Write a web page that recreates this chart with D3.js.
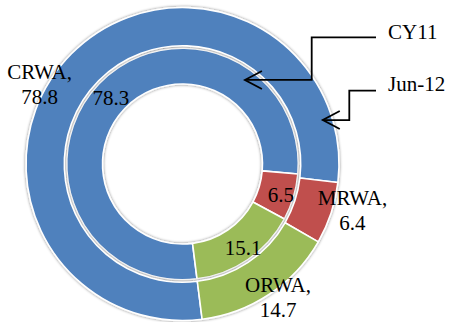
<!DOCTYPE html>
<html><head><meta charset="utf-8">
<script src="https://cdn.jsdelivr.net/npm/d3@7"></script>
<style>html,body{margin:0;padding:0;background:#fff;} svg{display:block;}</style>
</head><body>
<svg id="chart" width="451" height="322"></svg>
<script>
// ---- data ----
const categories = ["CRWA", "MRWA", "ORWA"];
const seriesNames = ["CY11", "Jun-12"];
const cy11Values = [78.3, 6.5, 15.1];
const jun12Values = [78.8, 6.4, 14.7];
const colors = ["#4F81BD", "#C0504D", "#9BBB59"];

// ---- layout ----
const W = 451, H = 322;
const cx = 182.5, cy = 164;
const start = 172.8 * Math.PI / 180;
const FONT = "'Liberation Serif', 'Times New Roman', serif";
const FS = 21, HALF_CAP = 7, LINE = 25;

const svg = d3.select("#chart");
const defs = svg.append("defs");
const f = defs.append("filter").attr("id", "sh")
  .attr("x", "-20%").attr("y", "-20%").attr("width", "140%").attr("height", "140%");
f.append("feGaussianBlur").attr("in", "SourceAlpha").attr("stdDeviation", 1.5).attr("result", "b");
f.append("feComponentTransfer").attr("in", "b").attr("result", "c")
  .append("feFuncA").attr("type", "linear").attr("slope", 0.5);
const m = f.append("feMerge");
m.append("feMergeNode").attr("in", "c");
m.append("feMergeNode").attr("in", "SourceGraphic");

const pie = d3.pie().sort(null).value(d => d)
  .startAngle(start).endAngle(start + 2 * Math.PI);

const rings = [
  { name: seriesNames[0], values: cy11Values, inner: 80, outer: 115.8, labelR: 98 },
  { name: seriesNames[1], values: jun12Values, inner: 118.2, outer: 156.5, labelR: 137.5 }
];

const g = svg.append("g").attr("transform", `translate(${cx},${cy})`);

rings.forEach((ring, ri) => {
  const arc = d3.arc().innerRadius(ring.inner).outerRadius(ring.outer);
  const rg = g.append("g").attr("filter", "url(#sh)");
  rg.selectAll("path").data(pie(ring.values)).join("path")
    .attr("d", arc)
    .attr("fill", (d, i) => colors[i])
    .attr("stroke", "#fff")
    .attr("stroke-width", 1.6)
    .attr("stroke-linejoin", "round");
  ring.arcs = pie(ring.values);
  ring.labelArc = d3.arc().innerRadius(ring.labelR).outerRadius(ring.labelR);
});

// ---- data labels ----
const innerOffsets = [[-1, 1.5], [4.6, 3], [5.3, 3.5]];
const outerOffsets = [[-45.3, 17.5], [39.4, 3.2], [19.3, 19.0]];

const lab = g.append("g").attr("font-family", FONT).attr("font-size", FS).attr("fill", "#000")
  .attr("text-anchor", "middle");

// inner ring (CY11): value only
rings[0].arcs.forEach((a, i) => {
  const [x, y] = rings[0].labelArc.centroid(a);
  lab.append("text")
    .attr("x", x + innerOffsets[i][0])
    .attr("y", y + innerOffsets[i][1] + HALF_CAP)
    .text(d3.format(".1f")(cy11Values[i]));
});

// outer ring (Jun-12): category + value, two lines
rings[1].arcs.forEach((a, i) => {
  const [x, y] = rings[1].labelArc.centroid(a);
  const bx = x + outerOffsets[i][0], by = y + outerOffsets[i][1];
  const t = lab.append("text").attr("x", bx).attr("y", by - LINE / 2 + HALF_CAP);
  t.append("tspan").attr("x", bx).text(categories[i] + ",");
  t.append("tspan").attr("x", bx).attr("dy", LINE).text(d3.format(".1f")(jun12Values[i]));
});

// ---- series callouts with elbow arrows ----
const callouts = [
  { text: seriesNames[0], tx: 388, ty: 39, angle: 36.6, r: 104.7, elbowX: 311.7 - cx, lineY: 37.3 },
  { text: seriesNames[1], tx: 388, ty: 91, angle: 72.6, r: 147, elbowX: 349.3 - cx, lineY: 90.7 }
];
const co = svg.append("g");
callouts.forEach(c => {
  const a = c.angle * Math.PI / 180;
  const tipX = cx + c.r * Math.sin(a), tipY = cy - c.r * Math.cos(a);
  const ex = cx + c.elbowX;
  const p = d3.path();
  p.moveTo(c.tx - 12, c.lineY);
  p.lineTo(ex, c.lineY);
  p.lineTo(ex, tipY);
  p.lineTo(tipX, tipY);
  co.append("path").attr("d", p.toString()).attr("fill", "none")
    .attr("stroke", "#000").attr("stroke-width", 1.8);
  const h = d3.path();
  h.moveTo(tipX + 17, tipY - 9);
  h.lineTo(tipX, tipY);
  h.lineTo(tipX + 17, tipY + 9);
  co.append("path").attr("d", h.toString()).attr("fill", "none")
    .attr("stroke", "#000").attr("stroke-width", 1.8);
  co.append("text").attr("x", c.tx).attr("y", c.ty)
    .attr("font-family", FONT).attr("font-size", FS).attr("fill", "#000")
    .text(c.text);
});
</script>
</body></html>
